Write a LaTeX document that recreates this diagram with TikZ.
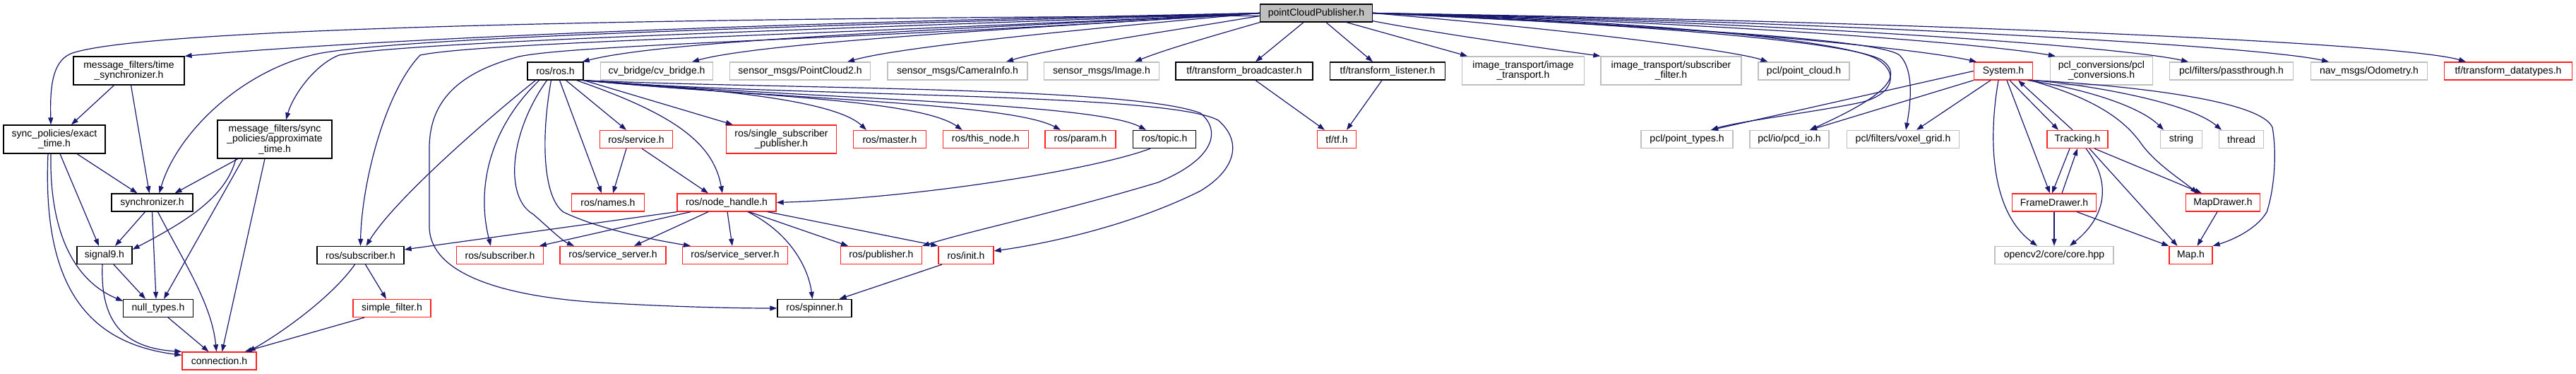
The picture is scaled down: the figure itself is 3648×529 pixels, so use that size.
\documentclass[tikz,border=0pt]{standalone}
\usepackage{fontspec}
\setmainfont{Liberation Sans}
\usetikzlibrary{arrows.meta}
\definecolor{dxblue}{HTML}{191970}
\definecolor{dxred}{HTML}{FF2020}
\definecolor{dxgray}{HTML}{BFBFBF}
\newcommand{\dxfont}{\fontsize{14}{14.5}\selectfont}
\tikzset{
  nb/.style={draw=black, line width=1.3pt, fill=white, inner sep=0pt, font=\dxfont, align=center, minimum height=25pt},
  nr/.style={nb, draw=dxred},
  ng/.style={nb, draw=dxgray},
  ntop/.style={nb, fill=dxgray},
  dep/.style={draw=dxblue, line width=1.2pt, -{Triangle[length=10pt,width=7pt]}},
}
\begin{document}
\begin{tikzpicture}[x=1pt,y=-1pt]
\useasboundingbox (0,0) rectangle (3648,529);
% top
\node[ntop, minimum width=158.5pt] (P) at (1864,18.5) {pointCloudPublisher.h};
% row 1
\node[nb, minimum width=157pt, minimum height=40pt] (ts) at (182.5,100) {message\_filters/time\\\_synchronizer.h};
\node[nb, minimum width=79pt] (ros) at (786.5,100.5) {ros/ros.h};
\node[ng, minimum width=159.5pt] (cv) at (930,100.5) {cv\_bridge/cv\_bridge.h};
\node[ng, minimum width=198.5pt] (pc2) at (1133,100.5) {sensor\_msgs/PointCloud2.h};
\node[ng, minimum width=198pt] (cam) at (1356,100.5) {sensor\_msgs/CameraInfo.h};
\node[ng, minimum width=163pt] (img) at (1560,100.5) {sensor\_msgs/Image.h};
\node[nb, minimum width=194pt] (bc) at (1762,100.5) {tf/transform\_broadcaster.h};
\node[nb, minimum width=163pt] (tl) at (1965,100.5) {tf/transform\_listener.h};
\node[ng, minimum width=172.5pt, minimum height=40pt] (it) at (2157,100) {image\_transport/image\\\_transport.h};
\node[ng, minimum width=199pt, minimum height=40pt] (sfil) at (2366.5,100) {image\_transport/subscriber\\\_filter.h};
\node[ng, minimum width=129pt] (pcl) at (2554.5,100.5) {pcl/point\_cloud.h};
\node[nr, minimum width=83.5pt] (sys) at (2837,100.5) {System.h};
\node[ng, minimum width=145pt, minimum height=40pt] (pconv) at (2976,100) {pcl\_conversions/pcl\\\_conversions.h};
\node[ng, minimum width=175pt] (pt) at (3160,100.5) {pcl/filters/passthrough.h};
\node[ng, minimum width=165pt] (odo) at (3355,100.5) {nav\_msgs/Odometry.h};
\node[nr, minimum width=181.5pt] (dt) at (3552,100.5) {tf/transform\_datatypes.h};
% row 2
\node[nb, minimum width=144pt, minimum height=40pt] (ex) at (77,197) {sync\_policies/exact\\\_time.h};
\node[nb, minimum width=162pt, minimum height=54pt] (ap) at (389,197) {message\_filters/sync\\\_policies/approximate\\\_time.h};
\node[nr, minimum width=102.5pt] (srv) at (901,197) {ros/service.h};
\node[nr, minimum width=156pt, minimum height=40pt] (ssp) at (1106.5,197) {ros/single\_subscriber\\\_publisher.h};
\node[nr, minimum width=103pt] (mas) at (1260,197) {ros/master.h};
\node[nr, minimum width=121pt] (tn) at (1395.7,197) {ros/this\_node.h};
\node[nr, minimum width=100pt] (par) at (1530,197) {ros/param.h};
\node[nb, minimum width=89.5pt] (top) at (1649,197) {ros/topic.h};
\node[nr, minimum width=55pt] (tf) at (1893,197) {tf/tf.h};
\node[ng, minimum width=130pt] (ptyp) at (2389,197) {pcl/point\_types.h};
\node[ng, minimum width=112pt] (pcd) at (2534,197) {pcl/io/pcd\_io.h};
\node[ng, minimum width=159pt] (vox) at (2695,197) {pcl/filters/voxel\_grid.h};
\node[nr, minimum width=86pt] (trk) at (2942,197) {Tracking.h};
\node[ng, minimum width=58.6pt] (str) at (3089,197) {string};
\node[ng, minimum width=63.6pt] (thr) at (3174,197) {thread};
% row 3
\node[nb, minimum width=115pt] (syn) at (215.5,286.5) {synchronizer.h};
\node[nr, minimum width=102.6pt] (nam) at (861,286.5) {ros/names.h};
\node[nr, minimum width=140pt] (nh) at (1029,286.5) {ros/node\_handle.h};
\node[nr, minimum width=119pt] (fd) at (2909,286.5) {FrameDrawer.h};
\node[nr, minimum width=105.5pt] (md) at (3148,286.5) {MapDrawer.h};
% row 4
\node[nb, minimum width=78pt] (sig) at (148,361) {signal9.h};
\node[nb, minimum width=123pt] (subB) at (510.5,361) {ros/subscriber.h};
\node[nr, minimum width=122.5pt] (subR) at (708,361) {ros/subscriber.h};
\node[nr, minimum width=150pt] (ss1) at (868,361) {ros/service\_server.h};
\node[nr, minimum width=149.5pt] (ss2) at (1041,361) {ros/service\_server.h};
\node[nr, minimum width=114.5pt] (pub) at (1248,361) {ros/publisher.h};
\node[nr, minimum width=78pt] (ini) at (1368,361) {ros/init.h};
\node[ng, minimum width=168pt] (ocv) at (2909,361) {opencv2/core/core.hpp};
\node[nr, minimum width=61pt] (map) at (3102.5,361) {Map.h};
% row 5
\node[nb, minimum width=98.5pt] (nul) at (224,436) {null\_types.h};
\node[nr, minimum width=110pt] (simp) at (555,436) {simple\_filter.h};
\node[nb, minimum width=105pt] (spin) at (1153.5,436) {ros/spinner.h};
% row 6
\node[nr, minimum width=105pt] (con) at (310.5,510.5) {connection.h};

% ---- edges from pointCloudPublisher.h (left side)
\draw[dep] ([yshift=-4pt]P.west) .. controls (1000,25) and (200,38) .. (100,76) .. controls (72,88) and (71,130) .. ([xshift=-5pt]ex.north);
\draw[dep] (P.west) .. controls (1200,30) and (600,50) .. (ts.north east);
\draw[dep] (P.west) .. controls (1000,40) and (560,55) .. (450,76) .. controls (340,100) and (250,190) .. ([xshift=10pt]syn.north);
\draw[dep] (P.west) .. controls (1050,45) and (580,60) .. (480,78) .. controls (445,92) and (415,135) .. ([xshift=16pt]ap.north);
\draw[dep] (P.west) .. controls (1150,50) and (680,60) .. (595,78) .. controls (545,130) and (512,260) .. (subB.north);
\draw[dep] (P.west) .. controls (1250,55) and (820,62) .. (735,80) .. controls (640,105) and (608,150) .. (608,210) -- (608,320) .. controls (608,390) and (720,420) .. (850,428) .. controls (950,434) and (1040,436) .. (spin.west);
\draw[dep] (P.west) .. controls (1400,40) and (950,55) .. ([xshift=-2pt]ros.north east);
\draw[dep] (P.west) .. controls (1450,40) and (1080,60) .. ([xshift=50pt]cv.north);
\draw[dep] (P.west) .. controls (1550,40) and (1280,65) .. ([xshift=67pt]pc2.north);
\draw[dep] ([yshift=-4pt]P.west) .. controls (1650,45) and (1480,70) .. ([xshift=69pt]cam.north);
\draw[dep] (P.south west) .. controls (1720,50) and (1650,70) .. ([xshift=47pt]img.north);
\draw[dep] ([xshift=-18pt]P.south) -- ([xshift=16pt]bc.north);
\draw[dep] ([xshift=14pt]P.south) -- ([xshift=-21pt]tl.north);
\draw[dep] ([xshift=43pt]P.south) -- ([xshift=8pt]it.north west);
\draw[dep] ([yshift=2pt]P.south east) .. controls (2050,50) and (2200,70) .. (sfil.north west);
% ---- edges from pointCloudPublisher.h (right side)
\draw[dep] (P.east) .. controls (2200,40) and (2450,70) .. ([xshift=-51pt]pcl.north);
\draw[dep] (P.east) .. controls (2300,30) and (2700,65) .. ([xshift=-38pt]sys.north);
\draw[dep] (P.east) .. controls (2400,30) and (2800,60) .. ([xshift=8pt]pconv.north west);
\draw[dep] (P.east) .. controls (2500,30) and (3000,65) .. ([xshift=-61pt]pt.north);
\draw[dep] (P.east) .. controls (2600,30) and (3200,65) .. ([xshift=-57pt]odo.north);
\draw[dep] (P.east) .. controls (2700,30) and (3400,60) .. ([xshift=-60pt]dt.north);
\draw[dep] (P.east) .. controls (2300,28) and (2600,55) .. (2655,82) .. controls (2690,100) and (2685,135) .. (2630,146) .. controls (2560,160) and (2460,172) .. ([xshift=34pt]ptyp.north);
\draw[dep] (P.east) .. controls (2300,33) and (2620,58) .. (2665,85) .. controls (2700,110) and (2660,140) .. ([xshift=29pt]pcd.north);
\draw[dep] (P.east) .. controls (2350,38) and (2660,55) .. (2690,78) .. controls (2712,100) and (2705,150) .. ([xshift=4pt]vox.north);

% ---- ros/ros.h
\draw[dep] ([xshift=-28pt]ros.south) .. controls (700,160) and (560,280) .. ([xshift=8pt]subB.north);
\draw[dep] ([xshift=-23pt]ros.south) .. controls (690,185) and (675,270) .. ([xshift=-13pt]subR.north);
\draw[dep] ([xshift=-12pt]ros.south) .. controls (720,190) and (715,280) .. (755,303) .. controls (775,320) and (795,340) .. ([xshift=-55pt]ss1.north);
\draw[dep] ([xshift=-6pt]ros.south) .. controls (765,200) and (770,280) .. (798,300) .. controls (850,325) and (930,340) .. ([xshift=-63pt]ss2.north);
\draw[dep] ([xshift=6pt]ros.south) -- ([xshift=-9pt]nam.north);
\draw[dep] ([xshift=15pt]ros.south) -- ([xshift=-14pt]srv.north);
\draw[dep] ([xshift=30pt]ros.south) .. controls (950,160) and (1010,200) .. ([xshift=-6pt]nh.north);
\draw[dep] (ros.south east) -- ([xshift=10pt]ssp.north west);
\draw[dep] (ros.south east) .. controls (1000,125) and (1180,140) .. ([xshift=-33pt]mas.north);
\draw[dep] (ros.south east) .. controls (1050,135) and (1300,140) .. ([xshift=-33pt]tn.north);
\draw[dep] (ros.south east) .. controls (1100,140) and (1430,145) .. ([xshift=-28pt]par.north);
\draw[dep] (ros.south east) .. controls (1150,140) and (1550,145) .. ([xshift=-26pt]top.north);
\draw[dep] (ros.south east) .. controls (1100,126) and (1600,122) .. (1700,160) .. controls (1730,185) and (1720,225) .. (1640,258) .. controls (1500,300) and (1380,325) .. (pub.north east);
\draw[dep] (ros.south east) .. controls (1100,137) and (1650,130) .. (1725,170) .. controls (1760,200) and (1750,240) .. (1700,270) .. controls (1600,320) and (1480,345) .. ([yshift=6pt]ini.east);
% ---- service, topic
\draw[dep] ([xshift=-14pt]srv.south) -- ([xshift=7pt]nam.north);
\draw[dep] ([xshift=8pt]srv.south) -- ([xshift=-26pt]nh.north);
\draw[dep] ([xshift=-20pt]top.south) .. controls (1550,240) and (1300,280) .. (nh.east);
% ---- node_handle
\draw[dep] (nh.south west) -- ([yshift=8pt]subB.east);
\draw[dep] ([xshift=-51pt]nh.south) -- ([xshift=-6pt]subR.north east);
\draw[dep] ([xshift=-26pt]nh.south) -- ([xshift=30pt]ss1.north);
\draw[dep] ([xshift=1pt]nh.south) -- ([xshift=-4pt]ss2.north);
\draw[dep] ([xshift=30pt]nh.south) .. controls (1120,330) and (1145,380) .. ([xshift=-3pt]spin.north);
\draw[dep] ([xshift=32pt]nh.south) -- ([xshift=-47pt]pub.north);
\draw[dep] ([xshift=58pt]nh.south) -- (ini.north west);
\draw[dep] ([xshift=-34pt]ini.south) -- ([xshift=-18pt]spin.north east);
% ---- tf
\draw[dep] ([xshift=16pt]bc.south) -- ([xshift=-17pt]tf.north);
\draw[dep] ([xshift=-8pt]tl.south) -- ([xshift=14pt]tf.north);

% ---- message_filters cluster
\draw[dep] ([xshift=-21pt]ts.south) -- ([xshift=24pt]ex.north);
\draw[dep] ([xshift=3pt]ts.south) -- ([xshift=-4pt]syn.north);
\draw[dep] ([xshift=32pt]ex.south) -- ([xshift=-21pt]syn.north);
\draw[dep] ([xshift=8pt]ex.south) -- ([xshift=-8pt]sig.north);
\draw[dep] ([xshift=-5pt]ex.south) .. controls (70,320) and (100,395) .. ([yshift=-3pt]nul.north west);
\draw[dep] ([xshift=-9pt]ex.south) .. controls (60,400) and (120,485) .. ([yshift=-5pt]con.north west);
\draw[dep] ([xshift=-52pt]ap.south) -- ([xshift=32pt]syn.north);
\draw[dep] ([xshift=-55pt]ap.south) .. controls (320,280) and (260,315) .. ([yshift=-5pt]sig.north east);
\draw[dep] ([xshift=-45pt]ap.south) -- ([xshift=8pt]nul.north);
\draw[dep] ([xshift=-14pt]ap.south) -- ([xshift=4pt]con.north);
\draw[dep] ([xshift=-10pt]syn.south) -- ([xshift=15pt]sig.north);
\draw[dep] (syn.south) -- ([xshift=-3pt]nul.north);
\draw[dep] ([xshift=8pt]syn.south) .. controls (260,370) and (300,430) .. ([xshift=-4pt]con.north);
\draw[dep] ([xshift=13pt]sig.south) -- ([xshift=-18pt]nul.north);
\draw[dep] ([xshift=-3pt]sig.south) .. controls (142,450) and (170,492) .. (con.north west);
\draw[dep] ([xshift=14pt]nul.south) -- ([xshift=-15pt]con.north);
\draw[dep] ([xshift=-8pt]subB.south) .. controls (470,420) and (400,470) .. ([xshift=-12pt]con.north east);
\draw[dep] ([xshift=7pt]subB.south) -- ([xshift=-8pt]simp.north);
\draw[dep] ([xshift=-39pt]simp.south) -- ([xshift=-17pt]con.north east);

% ---- System.h cluster
\draw[dep] (sys.west) -- ([xshift=34pt]ptyp.north);
\draw[dep] (sys.south west) -- ([xshift=29pt]pcd.north);
\draw[dep] ([xshift=-18pt]sys.south) -- ([xshift=19pt]vox.north);
\draw[dep] ([xshift=-7pt]sys.south) .. controls (2815,200) and (2820,300) .. ([xshift=-24pt]ocv.north);
\draw[dep] ([xshift=5pt]sys.south) -- ([xshift=-6pt]fd.north);
\draw[dep] ([xshift=9pt]sys.south) -- ([xshift=-27pt]trk.north);
\draw[dep] ([xshift=-7pt]trk.north) -- ([xshift=21pt]sys.south);
\draw[dep] ([xshift=-8pt]sys.south east) .. controls (2950,125) and (3030,150) .. ([xshift=-25pt]str.north);
\draw[dep] (sys.south east) .. controls (2960,120) and (3100,145) .. ([xshift=-28pt]thr.north);
\draw[dep] ([xshift=-4pt]sys.south east) .. controls (2950,135) and (3000,160) .. (3030,200) .. controls (3050,230) and (3090,255) .. ([xshift=-36pt]md.north);
\draw[dep] (sys.south east) .. controls (3000,120) and (3200,140) .. (3218,180) .. controls (3225,220) and (3220,270) .. (3210,300) .. controls (3195,325) and (3160,340) .. (map.north east);
\draw[dep] ([xshift=-11pt]trk.south) -- ([xshift=-3pt]fd.north);
\draw[dep] ([xshift=11pt]fd.north) -- (trk.south);
\draw[dep] ([xshift=12pt]trk.south) .. controls (2985,250) and (2990,300) .. ([xshift=22pt]ocv.north);
\draw[dep] ([xshift=24pt]trk.south) -- ([xshift=-30pt]md.north);
\draw[dep] ([xshift=17pt]trk.south) -- ([xshift=-19pt]map.north);
\draw[dep] (fd.south) -- (ocv.north);
\draw[dep] ([xshift=32pt]fd.south) -- (map.north west);
\draw[dep] ([xshift=-8pt]md.south) -- ([xshift=9pt]map.north);
\end{tikzpicture}
\end{document}
